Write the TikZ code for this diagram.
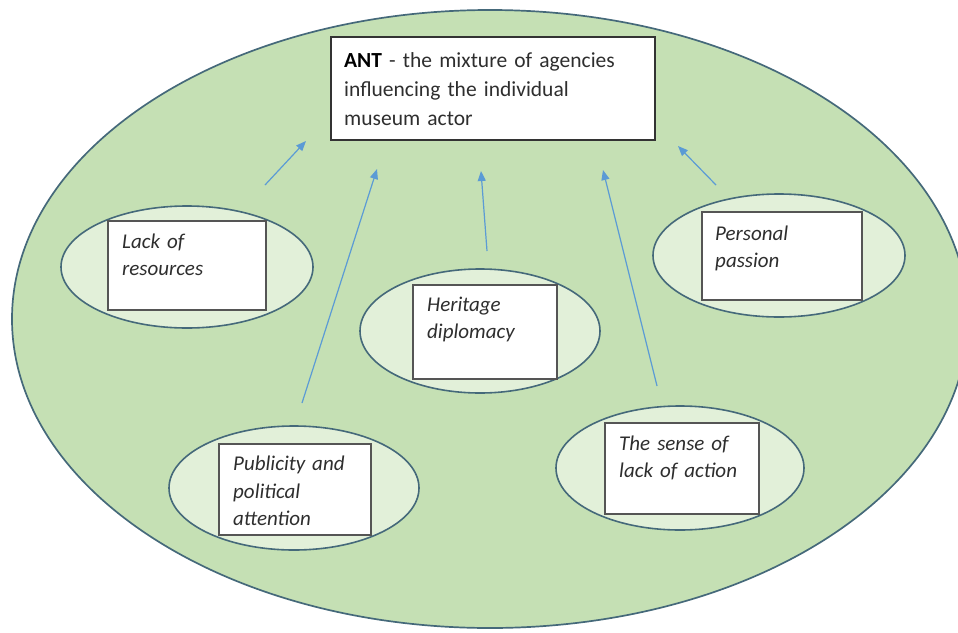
\documentclass[tikz,border=0pt]{standalone}
\usepackage{fontspec}
\setmainfont{Carlito}
\usetikzlibrary{shapes.geometric,arrows.meta}
\definecolor{outerfill}{HTML}{C5E0B4}
\definecolor{innerfill}{HTML}{E2F0D9}
\definecolor{rimline}{HTML}{45697A}
\definecolor{arrowblue}{HTML}{5B9BD5}
\definecolor{boxline}{HTML}{555555}
\definecolor{txtgray}{HTML}{2E2E2E}
\begin{document}
\begin{tikzpicture}[x=1pt,y=-1pt,
  outer/.style={ellipse,draw=rimline,line width=1.7pt,fill=outerfill,inner sep=0},
  factor/.style={ellipse,draw=rimline,line width=1.6pt,fill=innerfill,inner sep=0},
  box/.style={rectangle,draw=boxline,line width=1.2pt,fill=white,inner sep=0},
  lbl/.style={anchor=base west,inner sep=0,text width=150pt,align=left,
    text=txtgray,font=\fontsize{21}{27}\selectfont\itshape},
  influence/.style={draw=arrowblue,line width=1.2pt,
    -{Triangle[length=10pt,width=8pt]}}]
\useasboundingbox (0,0) rectangle (958,632);

% network of agencies
\node[outer,minimum width=956pt,minimum height=618pt] (net) at (490,319) {};

% factor ellipses with their boxes
\node[factor,minimum width=252pt,minimum height=122pt] (e1) at (187,267) {};
\node[box,minimum width=158pt,minimum height=89pt] (b1) at (187,265.5) {};
\node[lbl] (t1) at (122,248) {Lack of\\resources};

\node[factor,minimum width=240pt,minimum height=124pt] (e2) at (480,331) {};
\node[box,minimum width=144pt,minimum height=94pt] (b2) at (485,332) {};
\node[lbl] (t2) at (427,311.5) {Heritage\\diplomacy};

\node[factor,minimum width=250pt,minimum height=124pt] (e3) at (294,488) {};
\node[box,minimum width=152pt,minimum height=91pt] (b3) at (295,489.5) {};
\node[lbl,font=\fontsize{21}{27.5}\selectfont\itshape] (t3) at (233,470.5) {Publicity and\\political\\attention};

\node[factor,minimum width=248pt,minimum height=124pt] (e4) at (680,468) {};
\node[box,minimum width=154pt,minimum height=91pt] (b4) at (682,468.5) {};
\node[lbl] (t4) at (619,450.5) {The sense of\\lack of action};

\node[factor,minimum width=252pt,minimum height=123pt] (e5) at (779,255.5) {};
\node[box,minimum width=160pt,minimum height=88pt] (b5) at (782,256) {};
\node[lbl] (t5) at (715,240) {Personal\\passion};

% central actor box
\node[box,draw=black!80,minimum width=324pt,minimum height=103pt] (ant) at (493,88.5) {};
\node[lbl,text width=300pt,font=\fontsize{21.5}{29}\selectfont,text=txtgray] (tant) at (344,67)
  {\textbf{\textcolor{black}{ANT}} - the mixture of agencies\\influencing the individual\\museum actor};

% influence arrows
\coordinate (s1) at (265,185); \coordinate (p1) at (306,141);
\coordinate (s2) at (302,403); \coordinate (p2) at (377,169);
\coordinate (s3) at (487,251); \coordinate (p3) at (481,171);
\coordinate (s4) at (657,386); \coordinate (p4) at (603,170);
\coordinate (s5) at (716,185); \coordinate (p5) at (678,146);
\foreach \i in {1,...,5} \draw[influence] (s\i) -- (p\i);
\end{tikzpicture}
\end{document}
